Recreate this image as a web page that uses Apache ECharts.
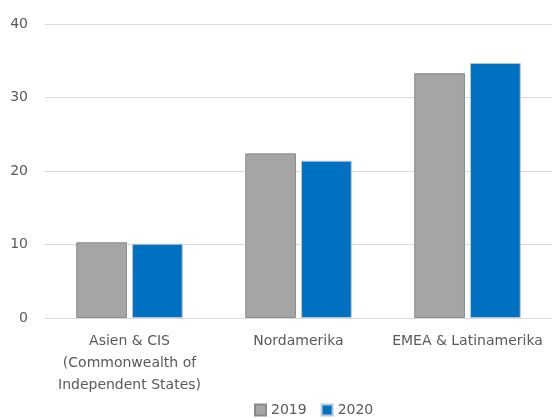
<!DOCTYPE html>
<html><head><meta charset="utf-8">
<script src="https://cdn.jsdelivr.net/npm/echarts@6/dist/echarts.min.js"></script>
<style>html,body{margin:0;padding:0;background:#fff}#c{width:552px;height:418px}</style>
</head><body><div id="c"></div>
<script>
const categories = ['Asien & CIS\n(Commonwealth of\nIndependent States)', 'Nordamerika', 'EMEA & Latinamerika'];
const values2019 = [10.3, 22.4, 33.3];
const values2020 = [10.1, 21.4, 34.7];
const yTicks = [0, 10, 20, 30, 40];
const chart = echarts.init(document.getElementById('c'));
const font = 'DejaVu Sans';
chart.setOption({
  animation: false,
  grid: {left: 45, right: 0, top: 24, bottom: 100},
  legend: {
    bottom: -4, left: 249, itemWidth: 11, itemHeight: 11, itemGap: 14,
    icon: 'rect',
    textStyle: {color: '#595959', fontSize: 14, fontFamily: font},
    data: ['2019', '2020']
  },
  xAxis: {
    type: 'category', data: categories,
    axisLine: {lineStyle: {color: '#d9d9d9'}},
    axisTick: {show: false},
    axisLabel: {color: '#595959', fontSize: 14, fontFamily: font, lineHeight: 22, margin: 12, interval: 0}
  },
  yAxis: {
    type: 'value', min: yTicks[0], max: yTicks[yTicks.length-1], interval: 10,
    axisLine: {show: false}, axisTick: {show: false},
    axisLabel: {color: '#595959', fontSize: 14, fontFamily: font, margin: 17},
    splitLine: {lineStyle: {color: '#d9d9d9'}}
  },
  series: [
    {name: '2019', type: 'bar', data: values2019, barWidth: '30%', barGap: '10%',
     itemStyle: {color: '#A5A5A5', borderColor: '#8a8a8a', borderWidth: 1}},
    {name: '2020', type: 'bar', data: values2020, barWidth: '30%',
     itemStyle: {color: '#0070C0', borderColor: '#b8c6d4', borderWidth: 1}}
  ]
});
</script></body></html>
